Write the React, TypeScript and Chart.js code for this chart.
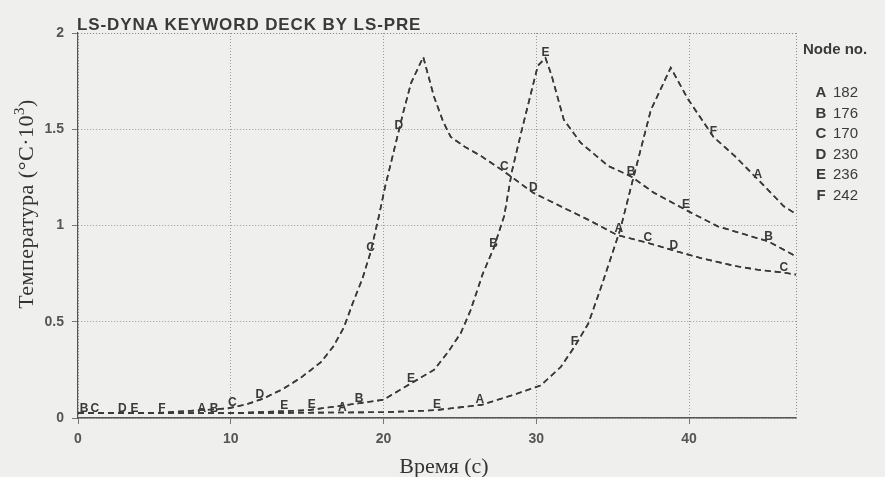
import React, { useEffect, useRef } from "react";
import { Chart, registerables } from "chart.js";
Chart.register(...registerables);

// Curve through nodes C (170) and D (230)
const timeCD = [0, 5, 9.8, 11.0, 12.1, 13.4, 14.6, 15.9, 16.7, 17.4, 18.0, 18.6, 19.15, 19.7, 20.1, 20.5, 20.9, 21.3, 21.8, 22.6, 23.3, 23.9, 24.4, 25.3, 26.4, 27.9, 29.8, 32.1, 33.4, 35.3, 37.3, 39.0, 40.8, 43.0, 44.5, 46.2, 47.0];
const tempCD = [0.025, 0.025, 0.05, 0.07, 0.1, 0.15, 0.21, 0.29, 0.37, 0.47, 0.6, 0.72, 0.86, 1.05, 1.2, 1.33, 1.46, 1.59, 1.74, 1.875, 1.67, 1.54, 1.46, 1.41, 1.36, 1.28, 1.17, 1.08, 1.03, 0.95, 0.91, 0.87, 0.83, 0.79, 0.77, 0.755, 0.745];
// Curve through nodes B (176) and E (236)
const timeBE = [0, 10, 15, 17.8, 20.0, 21.8, 23.3, 24.2, 25.05, 25.7, 26.5, 27.2, 27.9, 28.4, 29.0, 30.1, 30.6, 31.0, 31.8, 32.9, 34.7, 36.2, 37.7, 39.8, 41.9, 45.2, 47.0];
const tempBE = [0.025, 0.025, 0.04, 0.07, 0.095, 0.18, 0.25, 0.34, 0.44, 0.56, 0.75, 0.88, 1.05, 1.28, 1.48, 1.83, 1.87, 1.78, 1.55, 1.43, 1.31, 1.255, 1.17, 1.08, 0.995, 0.917, 0.84];
// Curve through nodes A (182) and F (242)
const timeAF = [0, 10, 20, 23.3, 26.4, 28.5, 30.3, 31.6, 32.5, 33.4, 34.2, 35.5, 36.2, 37.5, 38.8, 39.9, 41.6, 43.0, 44.5, 46.2, 47.0];
const tempAF = [0.025, 0.025, 0.03, 0.04, 0.068, 0.12, 0.17, 0.265, 0.37, 0.49, 0.67, 0.98, 1.2, 1.6, 1.82, 1.66, 1.46, 1.36, 1.24, 1.1, 1.06];

const nodeLetters = ["A", "B", "C", "D", "E", "F"];
const nodeNumbers = ["182", "176", "170", "230", "236", "242"];
const seriesTimes = [timeAF, timeBE, timeCD, timeCD, timeBE, timeAF];
const seriesTemps = [tempAF, tempBE, tempCD, tempCD, tempBE, tempAF];

const xTickValues = [0, 10, 20, 30, 40];
const yTickValues = [0, 0.5, 1, 1.5, 2];

// Curve letter markers: letter, dataset index, time
const markerLetters = ["B", "C", "D", "E", "F", "A", "B", "C", "D", "C", "D", "C", "D", "C", "D", "C", "E", "E", "B", "E", "B", "E", "B", "E", "B", "A", "E", "A", "F", "A", "F", "A"];
const markerSeries = [1, 2, 3, 4, 5, 0, 1, 2, 3, 2, 3, 2, 3, 2, 3, 2, 4, 4, 1, 4, 1, 4, 1, 4, 1, 0, 0, 0, 5, 0, 5, 0];
const markerTimes = [0.4, 1.1, 2.9, 3.7, 5.5, 8.1, 8.9, 10.1, 11.9, 19.15, 21.0, 27.9, 29.8, 37.3, 39.0, 46.2, 13.5, 15.3, 18.4, 21.8, 27.2, 30.6, 36.2, 39.8, 45.2, 17.3, 23.5, 26.3, 32.5, 35.4, 41.6, 44.5];

const INK = "#3a3a3a";

function interp(ts: number[], vs: number[], t: number) {
  for (let i = 1; i < ts.length; i++) {
    if (t <= ts[i]) {
      const f = (t - ts[i - 1]) / (ts[i] - ts[i - 1]);
      return vs[i - 1] + f * (vs[i] - vs[i - 1]);
    }
  }
  return vs[vs.length - 1];
}

const decorPlugin = {
  id: "decor",
  beforeDraw(chart: any) {
    const ctx = chart.ctx;
    ctx.save();
    ctx.fillStyle = "#efefed";
    ctx.fillRect(0, 0, chart.width, chart.height);
    ctx.restore();
  },
  afterDatasetsDraw(chart: any) {
    const ctx = chart.ctx;
    const { left, right, top, bottom } = chart.chartArea;
    const xs = chart.scales.x;
    const ys = chart.scales.y;
    ctx.save();
    // plot frame (top and right, dotted)
    ctx.strokeStyle = "#8a8a8a";
    ctx.lineWidth = 1;
    ctx.setLineDash([1, 2]);
    ctx.beginPath();
    ctx.moveTo(left, top + 0.5);
    ctx.lineTo(right, top + 0.5);
    ctx.moveTo(right + 0.5, top);
    ctx.lineTo(right + 0.5, bottom);
    ctx.stroke();
    ctx.setLineDash([]);

    // curve letters
    ctx.fillStyle = INK;
    ctx.font = "bold 12px 'Liberation Sans', Arial, sans-serif";
    ctx.textAlign = "center";
    ctx.textBaseline = "middle";
    for (let i = 0; i < markerLetters.length; i++) {
      const s = markerSeries[i];
      const t = markerTimes[i];
      const v = interp(seriesTimes[s], seriesTemps[s], t);
      ctx.fillText(markerLetters[i], xs.getPixelForValue(t), ys.getPixelForValue(v) - 5);
    }

    // title
    ctx.textAlign = "left";
    ctx.textBaseline = "alphabetic";
    ctx.font = "bold 17px 'Liberation Sans', Arial, sans-serif";
    ctx.fillStyle = INK;
    (ctx as any).letterSpacing = "0.9px";
    ctx.fillText("LS-DYNA KEYWORD DECK BY LS-PRE", 77, 30);
    (ctx as any).letterSpacing = "0px";

    // legend
    ctx.font = "bold 15px 'Liberation Sans', Arial, sans-serif";
    ctx.fillText("Node no.", 803, 54);
    for (let i = 0; i < nodeLetters.length; i++) {
      const y = 97 + i * 20.5;
      ctx.textAlign = "center";
      ctx.font = "bold 15px 'Liberation Sans', Arial, sans-serif";
      ctx.fillText(nodeLetters[i], 821, y);
      ctx.textAlign = "left";
      ctx.font = "15px 'Liberation Sans', Arial, sans-serif";
      ctx.fillText(nodeNumbers[i], 833, y);
    }

    // axis titles
    ctx.font = "22px 'Liberation Serif', 'Times New Roman', serif";
    ctx.fillStyle = "#333";
    ctx.textAlign = "center";
    ctx.fillText("Время (с)", 444, 473);

    ctx.save();
    ctx.translate(33, 204);
    ctx.rotate(-Math.PI / 2);
    ctx.textBaseline = "alphabetic";
    (ctx as any).letterSpacing = "0.5px";
    const mainPart = "Температура (°C·10";
    const supPart = "3";
    const endPart = ")";
    ctx.font = "22px 'Liberation Serif', 'Times New Roman', serif";
    const w1 = ctx.measureText(mainPart).width;
    const w3 = ctx.measureText(endPart).width;
    ctx.font = "15px 'Liberation Serif', 'Times New Roman', serif";
    const w2 = ctx.measureText(supPart).width;
    const total = w1 + w2 + w3;
    let x = -total / 2;
    ctx.textAlign = "left";
    ctx.font = "22px 'Liberation Serif', 'Times New Roman', serif";
    ctx.fillText(mainPart, x, 0);
    x += w1;
    ctx.font = "15px 'Liberation Serif', 'Times New Roman', serif";
    ctx.fillText(supPart, x, -9);
    x += w2;
    ctx.font = "22px 'Liberation Serif', 'Times New Roman', serif";
    ctx.fillText(endPart, x, 0);
    ctx.restore();
    ctx.restore();
  },
};

export default function App() {
  const ref = useRef<HTMLCanvasElement>(null);
  useEffect(() => {
    const canvas = ref.current!;
    const datasets = nodeLetters.map((letter, i) => ({
      label: letter + " " + nodeNumbers[i],
      data: seriesTimes[i].map((t, j) => ({ x: t, y: seriesTemps[i][j] })),
      borderColor: INK,
      borderWidth: 1.6,
      borderDash: [6, 4],
      pointRadius: 0,
      fill: false,
      tension: 0,
    }));
    const tickFont = { family: "'Liberation Sans', Arial, sans-serif", weight: "bold" as const, size: 14 };
    const chart = new Chart(canvas, {
      type: "line",
      data: { datasets },
      options: {
        animation: false,
        responsive: false,
        devicePixelRatio: 1,
        layout: { padding: { left: 0, top: 33, right: 89, bottom: 0 } },
        plugins: { legend: { display: false }, tooltip: { enabled: false } },
        scales: {
          x: {
            type: "linear",
            min: 0,
            max: 47,
            afterBuildTicks: (s: any) => {
              s.ticks = xTickValues.map((v) => ({ value: v }));
            },
            afterFit: (s: any) => {
              s.height = 59;
            },
            ticks: { font: tickFont, color: "#555", padding: 7, callback: (v: any) => String(v) },
            grid: { color: "#9a9a9a", tickLength: 6, tickColor: "#777" },
            border: { color: "#555", width: 1.5, dash: [1, 2] },
          },
          y: {
            type: "linear",
            min: 0,
            max: 2,
            afterBuildTicks: (s: any) => {
              s.ticks = yTickValues.map((v) => ({ value: v }));
            },
            afterFit: (s: any) => {
              s.width = 78;
            },
            ticks: { font: tickFont, color: "#555", padding: 8, callback: (v: any) => String(v) },
            grid: { color: "#9a9a9a", tickLength: 6, tickColor: "#777" },
            border: { color: "#555", width: 1.2, dash: [1, 2] },
          },
        },
      },
      plugins: [decorPlugin],
    });
    return () => chart.destroy();
  }, []);
  return (
    <div style={{ position: "fixed", left: 0, top: 0, width: 885, height: 477 }}>
      <canvas ref={ref} width={885} height={477} style={{ display: "block" }} />
    </div>
  );
}
